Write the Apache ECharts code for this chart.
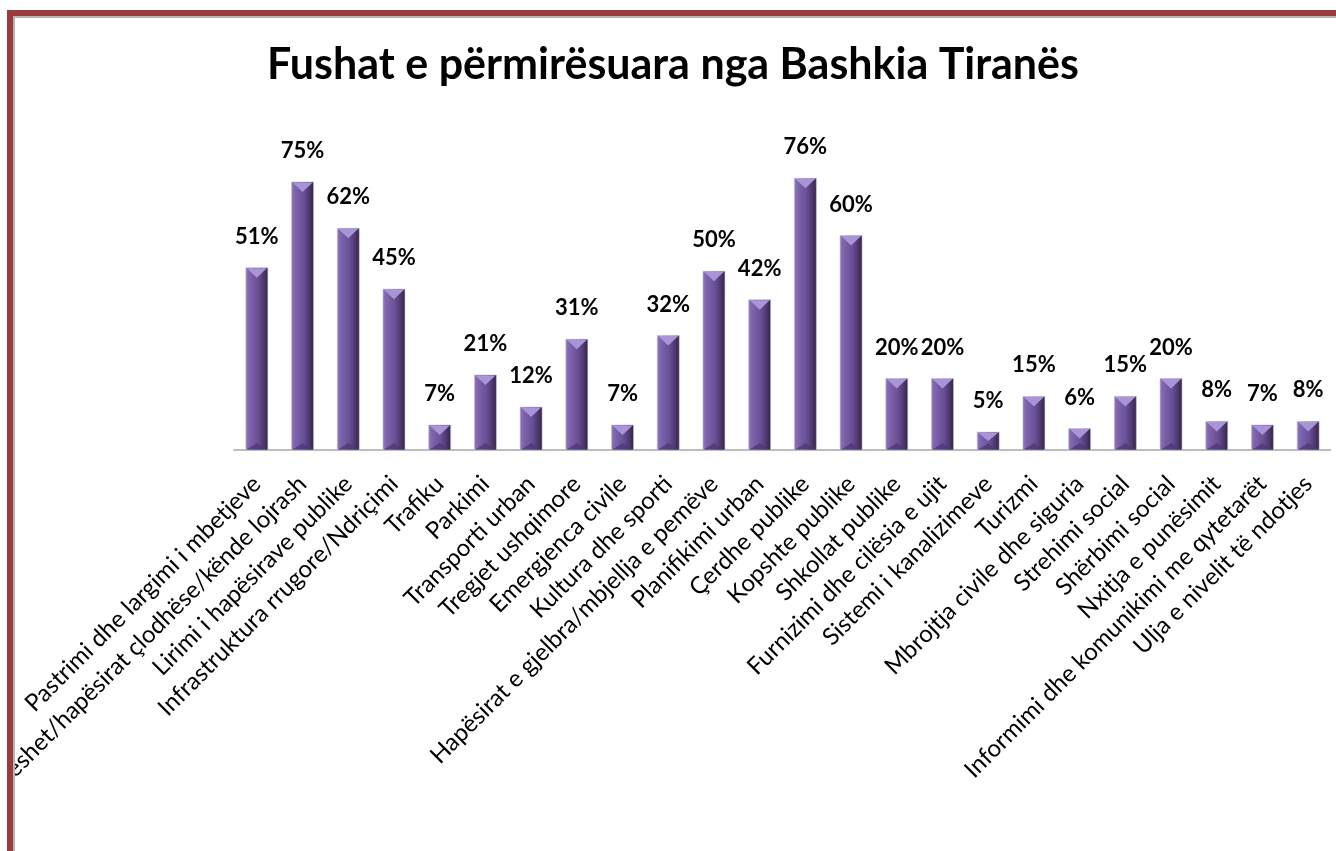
<!DOCTYPE html>
<html>
<head>
<meta charset="utf-8">
<script src="https://cdn.jsdelivr.net/npm/echarts@6/dist/echarts.min.js"></script>
<style>
  html, body { margin: 0; padding: 0; background: #fff; overflow: hidden; width: 1336px; height: 851px; }
  #frame {
    position: absolute; left: 7px; top: 10px; width: 1329px; height: 841px;
    border-top: 6px solid #9b3b3b; border-left: 6px solid #9b3b3b;
  }
  #inner {
    position: absolute; left: 0; top: 0; right: 0; bottom: 0;
    border-top: 2px solid #b4b4bc; border-left: 2px solid #b4b4bc;
  }
  #chart { position: absolute; left: 15px; top: 18px; width: 1316px; height: 833px; }
</style>
</head>
<body>
<div id="frame"><div id="inner"></div></div>
<div id="chart"></div>
<script>
// fushat (kategorite)
const categories = [
  "Pastrimi dhe largimi i mbetjeve",
  "Sheshet/hapësirat çlodhëse/kënde lojrash",
  "Lirimi i hapësirave publike",
  "Infrastruktura rrugore/Ndriçimi",
  "Trafiku",
  "Parkimi",
  "Transporti urban",
  "Tregjet ushqimore",
  "Emergjenca civile",
  "Kultura dhe sporti",
  "Hapësirat e gjelbra/mbjellja e pemëve",
  "Planifikimi urban",
  "Çerdhe publike",
  "Kopshte publike",
  "Shkollat publike",
  "Furnizimi dhe cilësia e ujit",
  "Sistemi i kanalizimeve",
  "Turizmi",
  "Mbrojtja civile dhe siguria",
  "Strehimi social",
  "Shërbimi social",
  "Nxitja e punësimit",
  "Informimi dhe komunikimi me qytetarët",
  "Ulja e nivelit të ndotjes"
];
// perqindjet
const values = [51, 75, 62, 45, 7, 21, 12, 31, 7, 32, 50, 42, 76, 60, 20, 20, 5, 15, 6, 15, 20, 8, 7, 8];

const chart = echarts.init(document.getElementById('chart'));

function renderBar(params, api) {
  const x = api.coord([api.value(0), api.value(1)]);
  const base = api.coord([api.value(0), 0]);
  const w = 22;
  const left = x[0] - w / 2;
  const top = x[1];
  const h = base[1] - top;
  const tri = Math.min(10, h / 2);
  return {
    type: 'group',
    children: [
      {
        type: 'rect',
        shape: { x: left, y: top, width: w, height: h },
        style: {
          fill: new echarts.graphic.LinearGradient(0, 0, 1, 0, [
            { offset: 0, color: '#9079bf' },
            { offset: 0.15, color: '#7e66ae' },
            { offset: 0.55, color: '#684f98' },
            { offset: 0.85, color: '#483463' },
            { offset: 1, color: '#302246' }
          ]),
          stroke: '#c9c3d6',
          lineWidth: 0.6
        }
      },
      {
        type: 'polygon',
        shape: { points: [[left + 1, top + 0.5], [left + w - 1, top + 0.5], [x[0], top + tri]] },
        style: { fill: '#aa94d8' }
      },
      {
        type: 'polygon',
        shape: { points: [[left + 1, base[1] - 0.5], [left + w - 1, base[1] - 0.5], [x[0], base[1] - tri * 0.7]] },
        style: { fill: '#4e3a73', opacity: 0.8 }
      },
      {
        type: 'text',
        style: {
          x: x[0], y: top - 20,
          text: api.value(1) + '%',
          align: 'center', verticalAlign: 'bottom',
          font: 'bold 22px Lato', fill: '#000'
        }
      }
    ]
  };
}

chart.setOption({
  animation: false,
  title: {
    text: 'Fushat e përmirësuara nga Bashkia Tiranës',
    left: 'center', top: 21,
    textStyle: { fontFamily: 'Lato', fontWeight: 'bold', fontSize: 43, color: '#000' }
  },
  grid: { left: 219, right: 0, top: 146, bottom: 401, outerBoundsMode: 'none', containLabel: false },
  xAxis: {
    type: 'category',
    data: categories,
    axisTick: { show: false },
    axisLine: { lineStyle: { color: '#a6a6a6', width: 1.5 } },
    axisLabel: {
      interval: 0, rotate: 45, margin: 30,
      fontFamily: 'Lato', fontSize: 24, color: '#000'
    }
  },
  yAxis: { type: 'value', min: 0, max: 80, show: false, splitLine: { show: false } },
  series: [{
    type: 'custom',
    renderItem: renderBar,
    encode: { x: 0, y: 1 },
    data: values.map((v, i) => [i, v])
  }]
});
</script>
</body>
</html>
